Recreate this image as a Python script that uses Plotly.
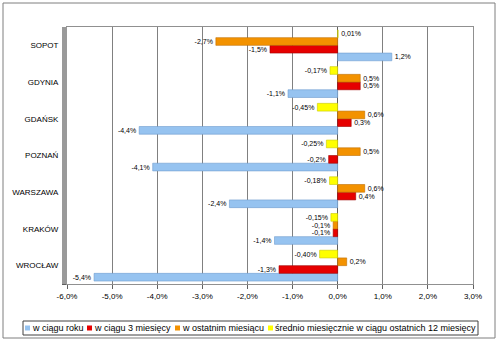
import plotly.graph_objects as go

# ---- data (top to bottom as in the chart) ----
cities = ["SOPOT", "GDYNIA", "GDAŃSK", "POZNAŃ", "WARSZAWA", "KRAKÓW", "WROCŁAW"]
w_ciagu_roku = [1.2, -1.1, -4.4, -4.1, -2.4, -1.4, -5.4]
w_ciagu_3_miesiecy = [-1.5, 0.5, 0.3, -0.2, 0.4, -0.1, -1.3]
w_ostatnim_miesiacu = [-2.7, 0.5, 0.6, 0.5, 0.6, -0.1, 0.2]
srednio_12_miesiecy = [0.01, -0.17, -0.45, -0.25, -0.18, -0.15, -0.40]

series_names = ["w ciągu roku", "w ciągu 3 miesięcy", "w ostatnim miesiącu",
                "średnio miesięcznie w ciągu ostatnich 12 miesięcy"]
series_values = [w_ciagu_roku, w_ciagu_3_miesiecy, w_ostatnim_miesiacu, srednio_12_miesiecy]
series_decimals = [1, 1, 1, 2]
x_ticks = [-6, -5, -4, -3, -2, -1, 0, 1, 2, 3]

# ---- styles ----
colors = ["#96C3F0", "#E60000", "#F39200", "#FFFF00"]
line_colors = ["#6E9CCF", "#A00000", "#C06E00", "#C8C800"]

W, H = 500, 340
L, R, T, B = 67, 27, 27, 56
PW, PH = W - L - R, H - T - B


def px_x(p):
    return (p - L) / PW


def px_y(p):
    return (H - B - p) / PH


def fmt(v, d):
    return f"{v:.{d}f}".replace(".", ",") + "%"


fig = go.Figure()
cats_plot = cities[::-1]
for name, vals, col, lc, d in zip(series_names, series_values, colors, line_colors, series_decimals):
    v = vals[::-1]
    fig.add_trace(go.Bar(
        y=cats_plot, x=v, orientation="h", name=name,
        marker=dict(color=col, line=dict(color=lc, width=0.6)),
        text=[fmt(a, d) for a in v], textposition="outside",
        constraintext="none", cliponaxis=False,
        textfont=dict(family="Liberation Sans, Arial", size=7, color="#000000"),
        showlegend=False,
    ))

fig.update_layout(
    width=W, height=H, margin=dict(l=L, r=R, t=T, b=B, pad=0),
    paper_bgcolor="white", plot_bgcolor="white",
    barmode="group", bargap=0.16, bargroupgap=0.0,
    font=dict(family="Liberation Sans, Arial", size=8, color="#000000"),
)
fig.update_xaxes(
    range=[-6, 3], tickvals=x_ticks, ticktext=[fmt(t, 1) for t in x_ticks],
    showgrid=True, gridcolor="#808080", gridwidth=1,
    zeroline=True, zerolinecolor="#606060", zerolinewidth=1,
    showline=True, linecolor="#909090", mirror=True,
    ticks="outside", ticklen=4, tickcolor="#606060",
    tickfont=dict(size=8, color="#000000"), fixedrange=True,
)
fig.update_yaxes(
    categoryorder="array", categoryarray=cats_plot,
    tickson="boundaries", ticks="outside", ticklen=4, tickcolor="#606060",
    showline=True, linecolor="#909090", mirror=True,
    showgrid=False, tickfont=dict(size=8, color="#000000"), ticklabelstandoff=6,
)

shapes = []
# outer chart frame
shapes.append(dict(type="rect", xref="paper", yref="paper",
                   x0=px_x(3), x1=px_x(495), y0=px_y(338), y1=px_y(3),
                   line=dict(color="#7f7f7f", width=1), fillcolor="rgba(0,0,0,0)", layer="below"))
# 3D left wall strip
shapes.append(dict(type="rect", xref="paper", yref="paper",
                   x0=px_x(62), x1=px_x(67), y0=0, y1=1,
                   line=dict(width=0), fillcolor="#9a9a9a", layer="above"))
# legend box
shapes.append(dict(type="rect", xref="paper", yref="paper",
                   x0=px_x(23), x1=px_x(478), y0=px_y(335), y1=px_y(321),
                   line=dict(color="#404040", width=1), fillcolor="white"))
annotations = []
legend_x = [25, 87, 175, 268]
for name, col, lx in zip(series_names, colors, legend_x):
    shapes.append(dict(type="rect", xref="paper", yref="paper",
                       x0=px_x(lx), x1=px_x(lx + 5), y0=px_y(330.5), y1=px_y(325.5),
                       line=dict(width=0), fillcolor=col))
    annotations.append(dict(xref="paper", yref="paper", x=px_x(lx + 6), y=px_y(328),
                            xanchor="left", yanchor="middle", showarrow=False, text=name,
                            font=dict(family="Liberation Sans, Arial", size=9, color="#000000"),
                            borderpad=0))
fig.update_layout(shapes=shapes, annotations=annotations)

fig.write_html("out.html")
